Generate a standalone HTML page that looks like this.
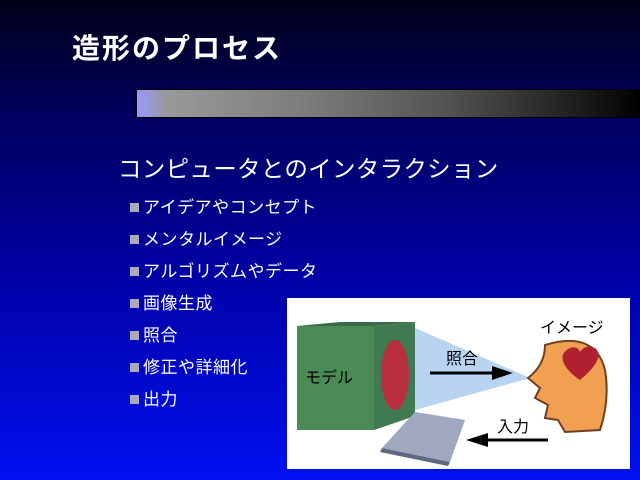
<!DOCTYPE html>
<html><head><meta charset="utf-8"><style>
body{margin:0;width:640px;height:480px;overflow:hidden;font-family:"Liberation Sans","Noto Sans CJK JP",sans-serif;
background:linear-gradient(#000018 0%,#000060 25%,#0000a0 55%,#0010f0 100%);position:relative;color:#fff}
.t{position:absolute;left:72px;top:27px;font-size:28px;font-weight:bold;letter-spacing:2px}
.bar{position:absolute;left:136px;top:89px;width:504px;height:27px;border:1px solid #000;
background:linear-gradient(90deg,#9999ff 0%,#999 6%,#7a7a7a 35%,#555 60%,#222 85%,#000 100%)}
.h{position:absolute;left:118px;top:150px;font-size:23.5px;letter-spacing:0.3px}
.li{position:absolute;left:130px;font-size:17px;letter-spacing:0.5px}
.li:before{content:"";display:inline-block;width:9px;height:9px;background:#aab;margin-right:4px;vertical-align:1px}
.panel{position:absolute;left:287px;top:298px;width:343px;height:171px;background:#fff}
</style></head><body>
<div class="t">造形のプロセス</div>
<div class="bar"></div>
<div class="h">コンピュータとのインタラクション</div>
<div class="li" style="top:193px">アイデアやコンセプト</div>
<div class="li" style="top:225px">メンタルイメージ</div>
<div class="li" style="top:257px">アルゴリズムやデータ</div>
<div class="li" style="top:289px">画像生成</div>
<div class="li" style="top:321px">照合</div>
<div class="li" style="top:353px">修正や詳細化</div>
<div class="li" style="top:385px">出力</div>
<div class="panel">
<svg width="343" height="171" viewBox="287 298 343 171" font-family="Liberation Sans,Noto Sans CJK JP,sans-serif">
<polygon points="415,328 530,378 415,410" fill="#b8d4f0"/>
<polygon points="374,326 415,322 415,416 374,430" fill="#3f7a50"/>
<ellipse cx="395" cy="375" rx="14" ry="35" fill="#b83040"/>
<rect x="297" y="326" width="77" height="104" fill="#4a8a55"/>
<polygon points="297,326 374,326 415,322 340,322" fill="#3a6a48"/>
<text x="305" y="383" font-size="16" fill="#000">モデル</text>
<polygon points="415,412 465,420 450,462 382,448" fill="#a0a8c0"/>
<polygon points="382,448 450,462 448,466 380,452" fill="#606880"/>
<line x1="430" y1="373" x2="495" y2="373" stroke="#000" stroke-width="3"/>
<polygon points="492,366 513,373 492,380" fill="#000"/>
<text x="446" y="364" font-size="16" fill="#000">照合</text>
<path d="M545,345 Q595,330 605,370 Q610,400 600,430 L565,432 L558,420 L545,418 L548,405 L535,398 L540,388 L528,378 Q545,365 545,345Z" fill="#f0a050" stroke="#704020" stroke-width="2"/>
<path d="M580,380 C565,370 555,355 570,348 C578,345 580,352 580,352 C580,352 585,343 595,348 C605,356 592,370 580,380Z" fill="#b02030"/>
<text x="540" y="333" font-size="16" fill="#000">イメージ</text>
<line x1="485" y1="440" x2="548" y2="440" stroke="#000" stroke-width="3"/>
<polygon points="488,433 466,440 488,447" fill="#000"/>
<text x="497" y="432" font-size="16" fill="#000">入力</text>
</svg></div>
</body></html>
